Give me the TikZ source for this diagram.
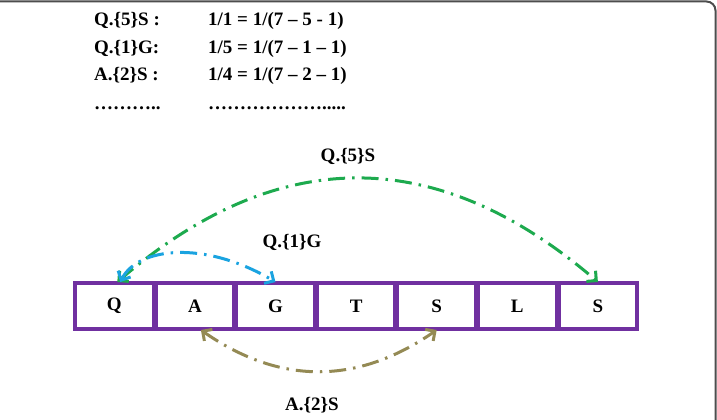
\documentclass[tikz,border=0pt]{standalone}
\usepackage{fontspec}
\setmainfont{Liberation Serif}
\usepackage{xcolor}
\definecolor{clCell}{HTML}{7030A0}
\definecolor{clGreen}{HTML}{1DAA4E}
\definecolor{clBlue}{HTML}{1AA3E0}
\definecolor{clOlive}{HTML}{948A54}
\definecolor{clFrame}{HTML}{4D4D4D}
\usepackage{tikz}
\usetikzlibrary{arrows.meta,positioning}
\tikzset{
  txt/.style={font=\fontsize{19}{22}\selectfont\bfseries, inner sep=0pt},
  cell/.style={rectangle, draw=clCell, line width=4pt, outer sep=1pt, fill=white,
               minimum width=78.6pt, minimum height=46pt, txt},
  row/.style={txt, anchor=base west},
  link/.style={line width=3pt, dash pattern=on 17pt off 7pt on 2.5pt off 7pt,
               {Straight Barb[length=7pt,width=14pt]}-{Straight Barb[length=7pt,width=14pt]}},
  linklabel/.style={txt},
}

\begin{document}
\begin{tikzpicture}[x=1pt, y=-1pt]
  \useasboundingbox (0,0) rectangle (717,420);
  \draw[clFrame, line width=2pt, rounded corners=9pt] (0,1.5) -| (715.5,420);
  % text rows
  \node[row] (k1) at (94,26) {Q.\{5\}S :};
  \node[row] (k2) at (94,54) {Q.\{1\}G:};
  \node[row] (k3) at (94,81) {A.\{2\}S :};
  \node[row] (k4) at (94,109) {………..};
  \node[row] (v1) at (208,26) {1/1 = 1/(7 – 5 - 1)};
  \node[row] (v2) at (208,54) {1/5 = 1/(7 – 1 – 1)};
  \node[row] (v3) at (208,81) {1/4 = 1/(7 – 2 – 1)};
  \node[row] (v4) at (208,109) {……………….....};
  % sequence
  \node[cell] (c1) at (114.3,306) {Q};
  \node[cell, right=0pt of c1] (c2) {A};
  \node[cell, right=0pt of c2] (c3) {G};
  \node[cell, right=0pt of c3] (c4) {T};
  \node[cell, right=0pt of c4] (c5) {S};
  \node[cell, right=0pt of c5] (c6) {L};
  \node[cell, right=0pt of c6] (c7) {S};
  % links
  \draw[link, clGreen] ([xshift=3pt]c1.north) .. controls (278,144) and (437,144) .. (c7.north);
  \draw[link, clBlue] ([xshift=6pt]c1.north) .. controls (138,247) and (205,240) .. (c3.north);
  \draw[link, clOlive] ([xshift=6pt]c2.south) .. controls (280,385) and (357,385) .. (c5.south);
  \node[linklabel] (l1) at (348,156) {Q.\{5\}S};
  \node[linklabel] (l2) at (292,242) {Q.\{1\}G};
  \node[linklabel] (l3) at (312,405) {A.\{2\}S};
\end{tikzpicture}
\end{document}
